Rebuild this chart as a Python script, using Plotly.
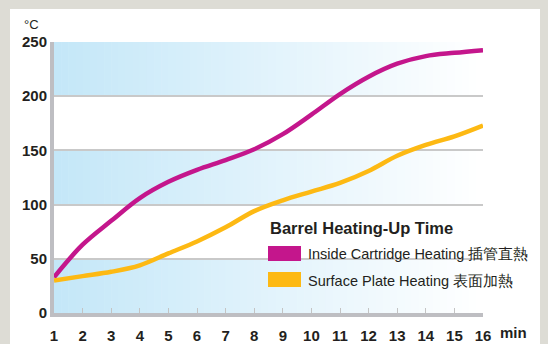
import plotly.graph_objects as go

# ---- data ----
minutes = list(range(1, 17))
inside_cartridge = [33, 63, 85, 106, 121, 132, 141, 151, 165, 183, 202, 218, 230, 237, 240, 242.5]
surface_plate = [30, 34, 38, 44, 55, 66, 79, 94, 104, 112, 120, 131, 145, 155, 163, 173]
y_ticks = [0, 50, 100, 150, 200, 250]
shaded_bands = [(0, 50), (100, 150), (200, 250)]

title_text = "Barrel Heating-Up Time"
name_inside = "Inside Cartridge Heating 插管直熱"
name_surface = "Surface Plate Heating 表面加熱"

MAGENTA = "#c4168c"
YELLOW = "#fdb913"
TEXT = "#231f20"
FONT = "Liberation Sans, Arial, sans-serif"

W, H = 548, 344
L, R, T, B = 54, 483, 42, 313


def px(x):
    return (x - L) / (R - L)


def py(y):
    return (B - y) / (B - T)


fig = go.Figure()

fig.add_trace(go.Scatter(x=minutes, y=inside_cartridge, mode="lines",
                         line=dict(color=MAGENTA, width=4.5, shape="spline", smoothing=1.0),
                         showlegend=False, hoverinfo="skip"))
fig.add_trace(go.Scatter(x=minutes, y=surface_plate, mode="lines",
                         line=dict(color=YELLOW, width=4.5, shape="spline", smoothing=1.0),
                         showlegend=False, hoverinfo="skip"))

shapes = []
# white panel
shapes.append(dict(type="rect", xref="paper", yref="paper",
                   x0=px(10), x1=px(540), y0=py(350), y1=py(9),
                   fillcolor="white", line=dict(width=0), layer="below"))

# gradient bands
c0 = (196, 231, 248)
c1 = (255, 255, 255)
N = 60
x_min, x_max = minutes[0], minutes[-1]
for (y0, y1) in shaded_bands:
    for i in range(N):
        t = i / (N - 1)
        col = tuple(round(c0[k] + (c1[k] - c0[k]) * t) for k in range(3))
        xa = x_min + (x_max - x_min) * i / N
        xb = x_min + (x_max - x_min) * (i + 1) / N
        shapes.append(dict(type="rect", xref="x", yref="y", x0=xa, x1=xb + 0.02,
                           y0=y0, y1=y1, fillcolor="rgb(%d,%d,%d)" % col,
                           line=dict(width=0), layer="below"))

# legend swatches
shapes.append(dict(type="rect", xref="paper", yref="paper",
                   x0=px(268), x1=px(301), y0=py(261), y1=py(246),
                   fillcolor=MAGENTA, line=dict(width=0)))
shapes.append(dict(type="rect", xref="paper", yref="paper",
                   x0=px(268), x1=px(301), y0=py(287), y1=py(272),
                   fillcolor=YELLOW, line=dict(width=0)))

annotations = [
    dict(text=title_text, xref="paper", yref="paper", x=px(268), y=py(228),
         xanchor="left", yanchor="middle", showarrow=False,
         font=dict(family=FONT, size=16.5, color=TEXT, weight="bold")),
    dict(text=name_inside, xref="paper", yref="paper", x=px(306), y=py(254),
         xanchor="left", yanchor="middle", showarrow=False,
         font=dict(family=FONT, size=14.5, color=TEXT)),
    dict(text=name_surface, xref="paper", yref="paper", x=px(306), y=py(281),
         xanchor="left", yanchor="middle", showarrow=False,
         font=dict(family=FONT, size=14.5, color=TEXT)),
    dict(text="min", xref="paper", yref="paper", x=px(498), y=py(332),
         xanchor="left", yanchor="middle", showarrow=False,
         font=dict(family=FONT, size=15, color=TEXT, weight="bold")),
    dict(text="°C", xref="paper", yref="paper", x=px(31), y=py(24),
         xanchor="center", yanchor="middle", showarrow=False,
         font=dict(family=FONT, size=13, color=TEXT)),
]

fig.update_layout(
    width=W, height=H,
    margin=dict(l=L, r=W - R, t=T, b=H - B),
    paper_bgcolor="#dddcd5",
    plot_bgcolor="white",
    shapes=shapes,
    annotations=annotations,
    xaxis=dict(range=[x_min, x_max], tickmode="array", tickvals=minutes,
               ticktext=[str(m) for m in minutes],
               showgrid=False, zeroline=False, automargin=False,
               showline=True, linecolor="#bebec2", linewidth=4,
               ticks="inside", ticklen=5, tickcolor="#c4c4c4", tickwidth=1,
               ticklabelstandoff=6,
               tickfont=dict(family=FONT, size=15, color=TEXT, weight="bold")),
    yaxis=dict(range=[0, 250], tickmode="array", tickvals=y_ticks,
               showgrid=True, gridcolor="#c9c9c9", gridwidth=1.5, zeroline=False,
               automargin=False,
               showline=True, linecolor="#bebec2", linewidth=4,
               ticks="", tickfont=dict(family=FONT, size=15, color=TEXT, weight="bold")),
    showlegend=False,
)

fig.write_html("out.html", config={"displayModeBar": False},
               post_script="document.body.style.margin='0';document.body.style.background='#dddcd5';")
